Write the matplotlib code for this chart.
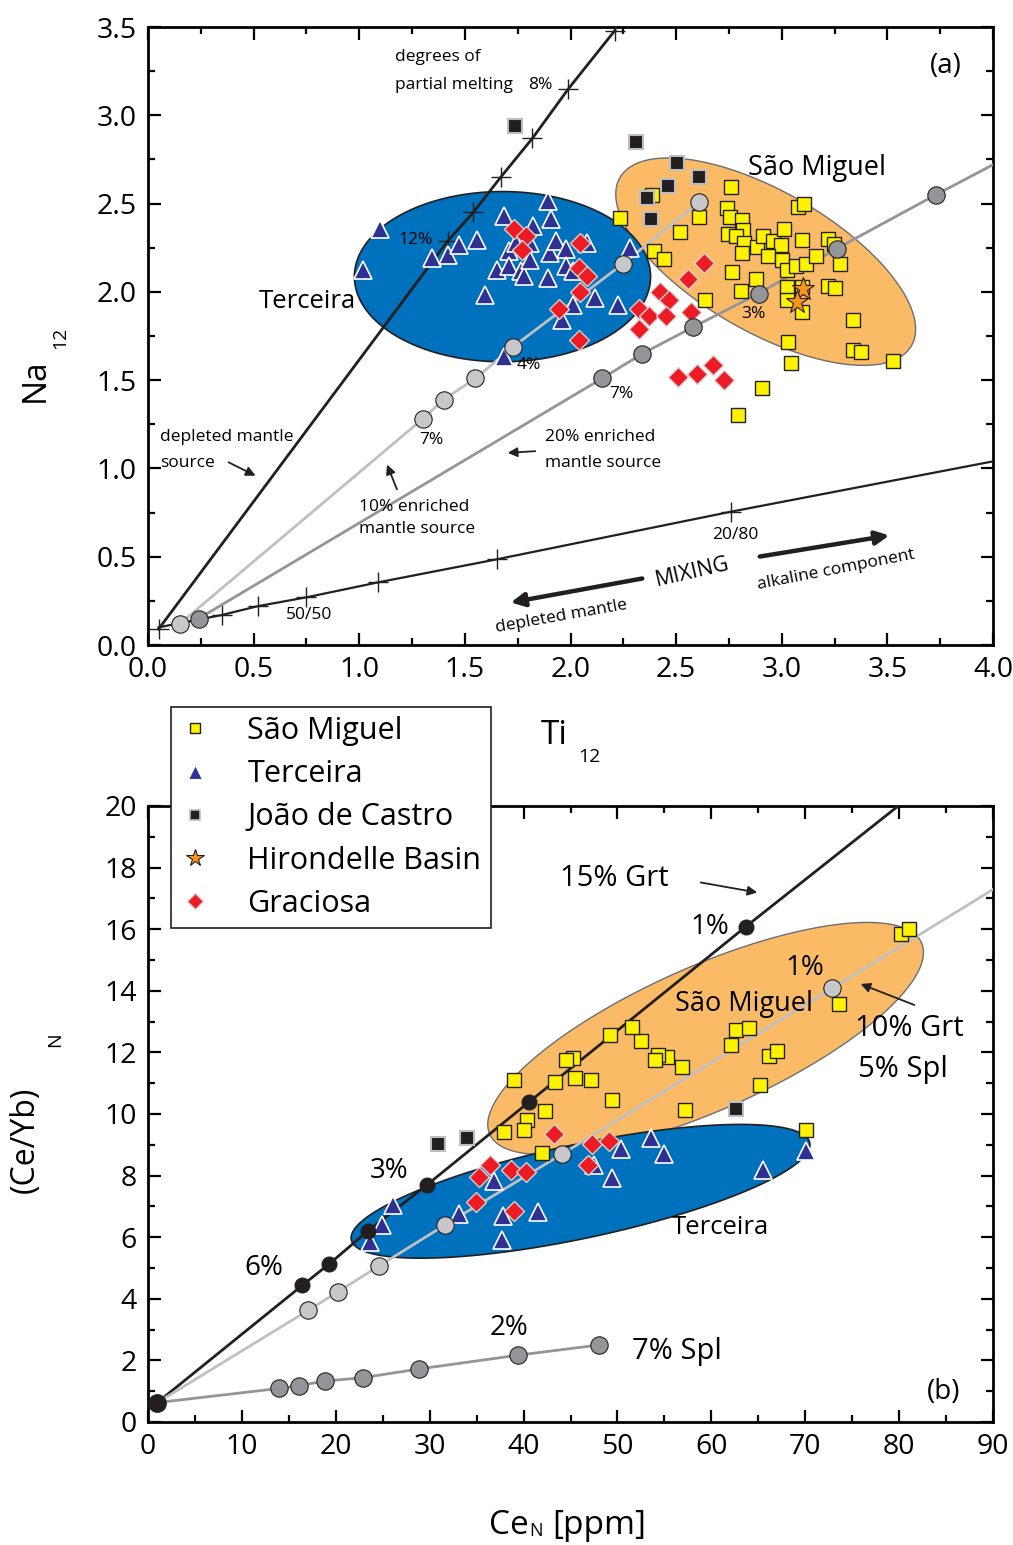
import numpy as np
import matplotlib
matplotlib.use("Agg")
import matplotlib.pyplot as plt
from matplotlib.lines import Line2D
from matplotlib.patches import Polygon
from matplotlib.ticker import MultipleLocator, FormatStrFormatter

plt.rcParams['font.family'] = ['Open Sans', 'DejaVu Sans']

W, H = 1013, 1545

# ---------------- Panel (a): Na12 vs Ti12 ----------------
sm_ti = [2.232, 2.395, 2.442, 2.387, 2.517, 2.608, 2.758, 2.739, 2.755, 2.814,
         2.817, 2.745, 2.785, 2.821, 2.814, 2.885, 2.911, 2.959, 2.995, 3.011,
         2.937, 3.003, 3.024, 3.066, 3.114, 3.161, 3.098, 3.079, 3.103, 3.221,
         3.248, 3.275, 3.221, 3.251, 2.766, 2.880, 2.806, 3.027, 3.024, 3.095,
         3.098, 2.635, 3.335, 3.030, 3.043, 3.338, 3.374, 3.525, 2.905, 2.793]
sm_na = [2.419, 2.230, 2.188, 2.547, 2.340, 2.425, 2.592, 2.476, 2.425, 2.405,
         2.353, 2.330, 2.319, 2.277, 2.221, 2.255, 2.315, 2.286, 2.268, 2.357,
         2.201, 2.183, 2.122, 2.145, 2.158, 2.205, 2.292, 2.481, 2.500, 2.302,
         2.273, 2.158, 2.031, 2.022, 2.111, 2.073, 2.007, 2.028, 1.956, 2.028,
         1.884, 1.952, 1.842, 1.716, 1.597, 1.668, 1.659, 1.606, 1.455, 1.304]

te_ti = [1.100, 1.020, 1.345, 1.418, 1.471, 1.558, 1.597, 1.684, 1.892, 1.910,
         1.823, 1.708, 1.653, 1.711, 1.766, 1.779, 1.806, 1.810, 1.743, 1.894,
         1.905, 1.929, 1.981, 1.981, 2.013, 2.079, 2.118, 2.013, 1.961, 2.226,
         2.284, 1.684]
te_na = [2.358, 2.126, 2.192, 2.211, 2.268, 2.296, 1.984, 2.428, 2.513, 2.413,
         2.371, 2.230, 2.126, 2.145, 2.116, 2.088, 2.183, 2.277, 2.277, 2.079,
         2.221, 2.286, 2.243, 2.145, 2.116, 2.277, 1.965, 1.927, 1.842, 1.923,
         2.249, 1.629]

jc_ti = [1.739, 2.311, 2.502, 2.608, 2.463, 2.364, 2.382]
jc_na = [2.942, 2.848, 2.731, 2.649, 2.602, 2.532, 2.413]

hb_ti = [3.102, 3.071]
hb_na = [2.016, 1.940]

gr_ti = [1.731, 1.787, 1.771, 2.044, 2.039, 2.079, 2.044, 1.945, 2.039, 2.324,
         2.423, 2.466, 2.371, 2.450, 2.324, 2.556, 2.632, 2.572, 2.509, 2.600,
         2.674, 2.727]
gr_na = [2.357, 2.315, 2.239, 2.277, 2.135, 2.092, 1.999, 1.905, 1.725, 1.903,
         1.999, 1.952, 1.861, 1.861, 1.790, 2.075, 2.164, 1.886, 1.518, 1.536,
         1.583, 1.498]

# melting curves (a)
dm_ti = [0.05, 1.42, 1.54, 1.67, 1.82, 1.99, 2.21]        # depleted mantle source
dm_na = [0.09, 2.29, 2.45, 2.65, 2.87, 3.15, 3.48]
e10_ti = [0.15, 1.30, 1.40, 1.55, 1.73, 2.25, 2.61]       # 10% enriched source
e10_na = [0.12, 1.28, 1.39, 1.51, 1.69, 2.16, 2.51]
e20_ti = [0.24, 2.15, 2.34, 2.58, 2.89, 3.26, 3.73]       # 20% enriched source
e20_na = [0.15, 1.51, 1.65, 1.80, 1.99, 2.245, 2.55]
e20_end = (4.0, 2.72)
mx_ti = [0.05, 0.35, 0.52, 0.75, 1.09, 1.65, 2.76, 4.0]   # mixing line
mx_na = [0.10, 0.17, 0.22, 0.27, 0.355, 0.485, 0.755, 1.04]

# ---------------- Panel (b): (Ce/Yb)N vs CeN ----------------
sm_ce = [80.19, 81.07, 73.61, 62.67, 64.01, 62.13, 66.14, 66.97, 65.18, 57.15,
         56.83, 55.31, 54.35, 53.99, 52.54, 51.50, 49.26, 45.29, 44.57, 45.53,
         47.21, 43.32, 39.03, 49.45, 42.33, 40.38, 37.89, 40.09, 70.06, 41.98]
sm_cy = [15.84, 16.00, 13.57, 12.74, 12.79, 12.25, 11.87, 12.03, 10.95, 10.14,
         11.54, 11.84, 11.93, 11.76, 12.38, 12.84, 12.57, 11.81, 11.76, 11.16,
         11.09, 11.03, 11.11, 10.47, 10.09, 9.81, 9.41, 9.47, 9.47, 8.73]

te_ce = [36.89, 33.09, 37.82, 41.55, 37.72, 26.07, 24.92, 23.67, 47.54, 49.37,
         50.33, 53.56, 54.95, 65.47, 70.06]
te_cy = [7.84, 6.76, 6.68, 6.82, 5.91, 7.05, 6.40, 5.83, 8.36, 7.91,
         8.87, 9.23, 8.69, 8.17, 8.80]

jc_ce = [30.85, 33.98, 62.67]
jc_cy = [9.03, 9.22, 10.17]

gr_ce = [43.29, 36.47, 35.22, 38.68, 40.31, 34.94, 38.95, 47.31, 49.08, 46.84]
gr_cy = [9.34, 8.33, 7.95, 8.17, 8.11, 7.14, 6.85, 9.03, 9.11, 8.33]

src_ce, src_cy = 0.99, 0.63                                  # common source
g15_ce = [16.45, 19.33, 23.38, 29.72, 40.55, 63.66]          # 15% Grt
g15_cy = [4.44, 5.14, 6.19, 7.70, 10.38, 16.08]
g15_end = (79.9, 20.0)
g10_ce = [17.09, 20.19, 24.63, 31.60, 44.11, 72.90]          # 10% Grt 5% Spl
g10_cy = [3.63, 4.22, 5.07, 6.39, 8.70, 14.09]
g10_end = (90.0, 17.29)
s7_ce = [13.97, 16.03, 18.87, 22.89, 28.82, 39.42, 48.02]    # 7% Spl
s7_cy = [1.09, 1.18, 1.33, 1.44, 1.72, 2.17, 2.50]

# colours
YEL, BLUE_T, BLK, ORG, RED = '#FFF200', '#2E3192', '#231F20', '#F7941D', '#ED1C24'
LGREY, MGREY = '#C7C8CA', '#939598'
ELL_BLUE, ELL_ORANGE = '#0071BC', '#FBBB66'


def ellipse(ax, c, a, b, fc, ec, lw, z):
    t = np.linspace(0, 2 * np.pi, 300)
    x = c[0] + a[0] * np.cos(t) + b[0] * np.sin(t)
    y = c[1] + a[1] * np.cos(t) + b[1] * np.sin(t)
    ax.add_patch(Polygon(np.column_stack([x, y]), closed=True, fc=fc, ec=ec,
                         lw=lw, zorder=z))


def style(ax):
    for s in ax.spines.values():
        s.set_linewidth(2)
    ax.tick_params(which='both', direction='in', top=True, right=True,
                   width=1.6, labelsize=20.5, pad=8)
    ax.tick_params(which='major', length=9)
    ax.tick_params(which='minor', length=5)


def sq(ax, x, y, z=6):
    ax.plot(x, y, 's', ms=10.5, mfc=YEL, mec=BLK, mew=1.0, ls='none', zorder=z)


def tri(ax, x, y, z=6):
    ax.plot(x, y, '^', ms=13, mfc=BLUE_T, mec='white', mew=1.2, ls='none', zorder=z)


def bsq(ax, x, y, z=6):
    ax.plot(x, y, 's', ms=10, mfc=BLK, mec='#BCBEC0', mew=1.5, ls='none', zorder=z)


def dia(ax, x, y, z=7):
    ax.plot(x, y, 'D', ms=10, mfc=RED, mec='#D1D3D4', mew=1.0, ls='none', zorder=z)


fig = plt.figure(figsize=(W / 100, H / 100), dpi=100)
ax_a = fig.add_axes([148 / W, 1 - 645 / H, (993 - 148) / W, (645 - 27) / H])
ax_b = fig.add_axes([148 / W, 1 - 1422 / H, (993 - 148) / W, (1422 - 806) / H])

# ---------- panel (a) ----------
ax = ax_a
ax.set_xlim(0, 4)
ax.set_ylim(0, 3.5)
ax.xaxis.set_major_locator(MultipleLocator(0.5))
ax.xaxis.set_minor_locator(MultipleLocator(0.25))
ax.yaxis.set_major_locator(MultipleLocator(0.5))
ax.yaxis.set_minor_locator(MultipleLocator(0.25))
ax.xaxis.set_major_formatter(FormatStrFormatter('%.1f'))
ax.yaxis.set_major_formatter(FormatStrFormatter('%.1f'))
style(ax)

ellipse(ax, (2.924, 2.171), (0.690, -0.476), (-0.166, -0.344), ELL_ORANGE, '#6D6E71', 1.0, 1)
ellipse(ax, (1.678, 2.086), (0.701, 0.0), (0.0, 0.482), ELL_BLUE, BLK, 1.2, 2)

ax.plot(dm_ti, dm_na, color=BLK, lw=2.0, zorder=3)
ax.plot(dm_ti, dm_na, '+', color=BLK, ms=14, mew=1.0, zorder=3)
ax.plot(mx_ti, mx_na, color=BLK, lw=1.6, zorder=3)
ax.plot(mx_ti[1:-1], mx_na[1:-1], '+', color=BLK, ms=14, mew=1.0, zorder=3)
ax.plot(e10_ti, e10_na, color='#BFC0C2', lw=2.0, zorder=3)
ax.plot(e20_ti + [e20_end[0]], e20_na + [e20_end[1]], color=MGREY, lw=2.0, zorder=3)

sq(ax, sm_ti, sm_na)
bsq(ax, jc_ti, jc_na)
tri(ax, te_ti, te_na)
dia(ax, gr_ti, gr_na)
ax.plot(hb_ti, hb_na, '*', ms=17, mfc=ORG, mec=BLK, mew=0.8, ls='none', zorder=8)

ax.plot(e10_ti, e10_na, 'o', ms=12.5, mfc=LGREY, mec=BLK, mew=0.8, ls='none', zorder=9)
ax.plot(e20_ti, e20_na, 'o', ms=12.5, mfc=MGREY, mec=BLK, mew=0.8, ls='none', zorder=9)

# ---------- panel (b) ----------
ax = ax_b
ax.set_xlim(0, 90)
ax.set_ylim(0, 20)
ax.xaxis.set_major_locator(MultipleLocator(10))
ax.xaxis.set_minor_locator(MultipleLocator(5))
ax.yaxis.set_major_locator(MultipleLocator(2))
ax.yaxis.set_minor_locator(MultipleLocator(1))
style(ax)

ellipse(ax, (59.39, 12.45), (22.99, 3.11), (3.12, -2.13), ELL_ORANGE, '#6D6E71', 1.0, 1)
ellipse(ax, (46.07, 7.49), (24.41, 1.578), (1.045, -1.491), ELL_BLUE, BLK, 1.2, 2)

ax.plot([src_ce] + g15_ce + [g15_end[0]], [src_cy] + g15_cy + [g15_end[1]],
        color=BLK, lw=2.0, zorder=3)
ax.plot([src_ce] + g10_ce + [g10_end[0]], [src_cy] + g10_cy + [g10_end[1]],
        color='#BFC0C2', lw=2.0, zorder=3)
ax.plot([src_ce] + s7_ce, [src_cy] + s7_cy, color=MGREY, lw=2.0, zorder=3)

sq(ax, sm_ce, sm_cy)
bsq(ax, jc_ce, jc_cy)
tri(ax, te_ce, te_cy)
dia(ax, gr_ce, gr_cy)

ax.plot(g15_ce, g15_cy, 'o', ms=10.5, mfc=BLK, mec=BLK, ls='none', zorder=9)
ax.plot(g10_ce, g10_cy, 'o', ms=12.5, mfc=LGREY, mec=BLK, mew=0.8, ls='none', zorder=9)
ax.plot(s7_ce, s7_cy, 'o', ms=12.5, mfc=MGREY, mec=BLK, mew=0.8, ls='none', zorder=9)
ax.plot([src_ce], [src_cy], 'o', ms=12.5, mfc=BLK, mec=BLK, ls='none', zorder=10,
        clip_on=False)


# ---------- text and arrows (figure pixel positions) ----------
def ftext(x, y, s, size, ha='left', rot=0, va='center'):
    fig.text(x / W, 1 - y / H, s, fontsize=size, ha=ha, va=va, rotation=rot,
             rotation_mode='anchor' if rot else 'default')


def farrow(x0, y0, x1, y1, lw=1.3, ms=14):
    fig.add_artist(matplotlib.patches.FancyArrowPatch(
        (x0, H - y0), (x1, H - y1), transform=None,
        arrowstyle='-|>', mutation_scale=ms, lw=lw, color=BLK, zorder=20))


small = 12.5
ftext(395, 57, 'degrees of', small)
ftext(395, 85, 'partial melting', small)
ftext(528, 85, '8%', small)
ftext(398, 240, '12%', small)
ftext(517, 365, '4%', small)
ftext(419, 440, '7%', small)
ftext(609, 394, '7%', small)
ftext(741, 314, '3%', small)
ftext(748, 168, 'São Miguel', 19.5)
ftext(259, 301, 'Terceira', 18.5)
ftext(930, 66, '(a)', 20)
ftext(160, 437, 'depleted mantle', small)
ftext(160, 463, 'source', small)
ftext(359, 507, '10% enriched', small)
ftext(359, 529, 'mantle source', small)
ftext(545, 437, '20% enriched', small)
ftext(545, 463, 'mantle source', small)
ftext(286, 615, '50/50', small)
ftext(712, 535, '20/80', small)
ftext(692, 572, 'MIXING', 15.5, ha='center', rot=13)
ftext(561, 617, 'depleted mantle', small, ha='center', rot=10)
ftext(836, 570, 'alkaline component', small, ha='center', rot=11)

farrow(226, 461, 258, 477)
farrow(398, 492, 386, 462)
farrow(538, 451, 505, 453)
farrow(645, 578, 508, 603, lw=3.2, ms=20)
farrow(757, 557, 892, 535, lw=3.2, ms=20)

ftext(560, 878, '15% Grt', 21)
ftext(690, 927, '1%', 20)
ftext(785, 968, '1%', 20)
ftext(675, 1004, 'São Miguel', 19.5)
ftext(855, 1028, '10% Grt', 21)
ftext(858, 1070, '5% Spl', 21)
ftext(672, 1228, 'Terceira', 18.5)
ftext(370, 1171, '3%', 20)
ftext(244, 1268, '6%', 20)
ftext(490, 1328, '2%', 20)
ftext(632, 1352, '7% Spl', 21)
ftext(927, 1392, '(b)', 20)
farrow(698, 882, 760, 893)
farrow(917, 1006, 858, 983)

# axis titles
ftext(35, 380, 'Na', 24, ha='center', rot=90)
ftext(60, 338, '12', 14, ha='center', rot=90)
ftext(541, 735, 'Ti', 24)
ftext(578, 757, '12', 14)
ftext(25, 1140, '(Ce/Yb)', 23, ha='center', rot=90)
ftext(55, 1040, 'N', 14, ha='center', rot=90)
ftext(489, 1525, 'Ce', 24)
ftext(529, 1531, 'N', 13)
ftext(552, 1525, '[ppm]', 24)

# legend
handles = [
    Line2D([], [], ls='none', marker='s', ms=7.5, mfc=YEL, mec=BLK, mew=1.0),
    Line2D([], [], ls='none', marker='^', ms=9.5, mfc=BLUE_T, mec='white', mew=0.8),
    Line2D([], [], ls='none', marker='s', ms=7.5, mfc=BLK, mec='#BCBEC0', mew=1.2),
    Line2D([], [], ls='none', marker='*', ms=13, mfc=ORG, mec=BLK, mew=0.8),
    Line2D([], [], ls='none', marker='D', ms=8, mfc=RED, mec='#D1D3D4', mew=1.0),
]
labels = ['São Miguel', 'Terceira', 'João de Castro', 'Hirondelle Basin', 'Graciosa']
leg = fig.legend(handles, labels, loc='upper left',
                 bbox_to_anchor=(171 / W, 1 - 707 / H), fontsize=22,
                 frameon=True, fancybox=False, framealpha=1, edgecolor=BLK,
                 borderpad=0.3, handlelength=1.0, handletextpad=1.2,
                 labelspacing=0.43, borderaxespad=0)
leg.get_frame().set_linewidth(1.2)

fig.savefig('out.png', dpi=100)
